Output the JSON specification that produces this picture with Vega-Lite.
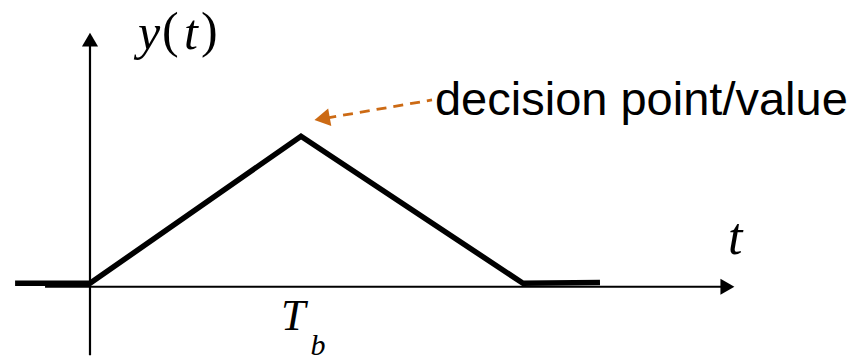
{
  "$schema": "https://vega.github.io/schema/vega-lite/v6.json",
  "width": 862,
  "height": 361,
  "autosize": {"type": "fit", "contains": "padding"},
  "padding": 0,
  "background": "white",
  "config": {"view": {"stroke": null}},
  "datasets": {
    "signal": [
      {"t": -0.355, "v": 0.02, "o": 0},
      {"t": 0.0, "v": 0.02, "o": 1},
      {"t": 1.0, "v": 1.0, "o": 2},
      {"t": 2.052, "v": 0.02, "o": 3},
      {"t": 2.417, "v": 0.026, "o": 4}
    ],
    "xaxis": [{"t": -0.213, "v": -0.003}, {"t": 3.0, "v": -0.003}],
    "yaxis": [{"t": 0.0, "v": -0.46}, {"t": 0.0, "v": 1.64}],
    "xhead": [{"t": 3.021, "v": -0.003}],
    "yhead": [{"t": 0.0, "v": 1.644}],
    "pointer": [{"t": 1.621, "v": 1.242}, {"t": 1.12, "v": 1.121}],
    "pointerhead": [{"t": 1.1, "v": 1.118}],
    "lblDecision": [{"t": 1.635, "v": 1.143, "label": "decision point/value"}],
    "lblYital": [{"t": 0.2275, "v": 1.582, "label": "y"}, {"t": 0.4455, "v": 1.582, "label": "t"}],
    "lblYparen": [{"t": 0.341, "v": 1.596, "label": "("}, {"t": 0.526, "v": 1.596, "label": ")"}],
    "lblT": [{"t": 3.024, "v": 0.216, "label": "t"}],
    "lblTb": [{"t": 0.905, "v": -0.29, "label": "T"}],
    "lblSub": [{"t": 1.045, "v": -0.455, "label": "b"}]
  },
  "encoding": {
    "x": {"field": "t", "type": "quantitative", "scale": {"domain": [-0.4265, 3.6588], "nice": false, "zero": false}, "axis": null},
    "y": {"field": "v", "type": "quantitative", "scale": {"domain": [-0.451, 1.908], "nice": false, "zero": false}, "axis": null}
  },
  "layer": [
    {"data": {"name": "xaxis"}, "mark": {"type": "line", "color": "black", "strokeWidth": 2.2, "clip": false}},
    {"data": {"name": "yaxis"}, "mark": {"type": "line", "color": "black", "strokeWidth": 2.2, "clip": false}},
    {"data": {"name": "xhead"}, "mark": {"type": "point", "shape": "triangle-right", "filled": true, "color": "black", "opacity": 1, "size": 260}},
    {"data": {"name": "yhead"}, "mark": {"type": "point", "shape": "triangle-up", "filled": true, "color": "black", "opacity": 1, "size": 260}},
    {"data": {"name": "signal"}, "mark": {"type": "line", "color": "black", "strokeWidth": 5.5, "strokeJoin": "miter", "strokeCap": "butt"}, "encoding": {"order": {"field": "o"}}},
    {"data": {"name": "pointer"}, "mark": {"type": "line", "color": "#CC6A14", "strokeWidth": 2.8, "strokeDash": [10, 7]}},
    {"data": {"name": "pointerhead"}, "mark": {"type": "point", "shape": "triangle-left", "filled": true, "color": "#CC6A14", "opacity": 1, "size": 320, "angle": -10}},
    {"data": {"name": "lblDecision"}, "mark": {"type": "text", "align": "left", "baseline": "alphabetic", "font": "Liberation Sans", "fontSize": 47, "color": "black"}, "encoding": {"text": {"field": "label"}}},
    {"data": {"name": "lblYital"}, "mark": {"type": "text", "align": "left", "baseline": "alphabetic", "font": "Liberation Serif", "fontStyle": "italic", "fontSize": 50, "color": "black"}, "encoding": {"text": {"field": "label"}}},
    {"data": {"name": "lblYparen"}, "mark": {"type": "text", "align": "left", "baseline": "alphabetic", "font": "Liberation Serif", "fontSize": 50, "color": "black"}, "encoding": {"text": {"field": "label"}}},
    {"data": {"name": "lblT"}, "mark": {"type": "text", "align": "left", "baseline": "alphabetic", "font": "Liberation Serif", "fontStyle": "italic", "fontSize": 52, "color": "black"}, "encoding": {"text": {"field": "label"}}},
    {"data": {"name": "lblTb"}, "mark": {"type": "text", "align": "left", "baseline": "alphabetic", "font": "Liberation Serif", "fontStyle": "italic", "fontSize": 44, "color": "black"}, "encoding": {"text": {"field": "label"}}},
    {"data": {"name": "lblSub"}, "mark": {"type": "text", "align": "left", "baseline": "alphabetic", "font": "Liberation Serif", "fontStyle": "italic", "fontSize": 30, "color": "black"}, "encoding": {"text": {"field": "label"}}}
  ]
}
